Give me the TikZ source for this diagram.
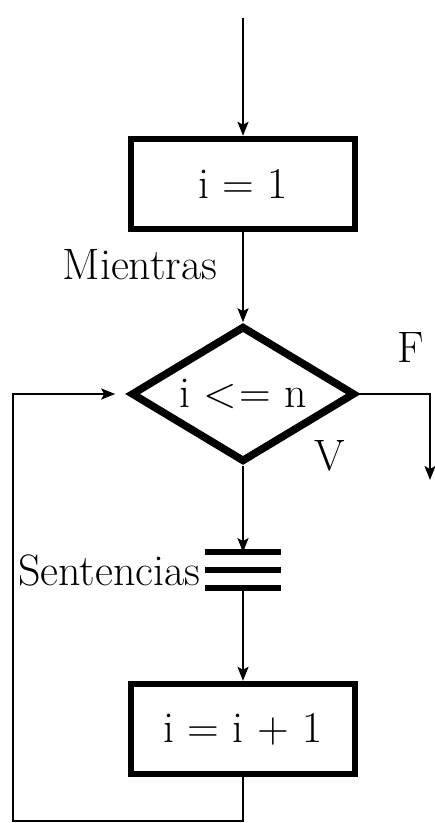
\documentclass[tikz,border=0pt]{standalone}
\usepackage{fontspec}
\usetikzlibrary{shapes.geometric,arrows.meta,positioning}

\tikzset{
  flow/.style={line width=1pt,-{Stealth[length=7pt,width=5.5pt,inset=1.5pt]}},
  wire/.style={line width=1pt},
  procbox/.style={draw,line width=3.2pt,rectangle,minimum width=112pt,minimum height=45pt,inner sep=0pt},
  testbox/.style={draw,line width=3.8pt,diamond,aspect=1.7,minimum width=112pt,minimum height=68pt,inner sep=0pt},
  bar/.style={line width=2.8pt},
  lbl/.style={inner sep=0pt}
}

\begin{document}
\begin{tikzpicture}[x=0.5pt,y=-0.5pt,font=\fontsize{22}{26}\selectfont]

  \useasboundingbox (0,0) rectangle (434,823);

  \def\axis{243}
  % --- boxes and test ---
  \node[procbox] (init) at (\axis,184) {i = 1};
  \node[testbox] (test) at (\axis,394) {i <\kern1pt= n};
  \node[minimum width=37.5pt,minimum height=17.5pt,inner sep=0pt] (sent) at (\axis,570) {};
  \node[procbox] (incr) at (\axis,729) {i = i + 1};

  % --- sentence block: three bars ---
  \foreach \a/\b in {north west/north east,west/east,south west/south east}
    \draw[bar] (sent.\a) -- (sent.\b);

  % --- labels ---
  \node[lbl] (mient) at (140,265) {Mientras};
  \node[lbl] (fal) at (411,348) {F};
  \node[lbl] (ver) at (330,456) {V};
  \node[lbl,left=2pt of sent] (sentlbl) {Sentencias};

  % --- free ends ---
  \coordinate (start) at (\axis,18);
  \coordinate (exit) at (430,480);
  \coordinate (loop) at (13,821);

  % --- connectors ---
  \draw[flow] (start) -- (init.north);
  \draw[flow] (init.south) -- (test.north);
  \draw[flow] (test.east) -| (exit);
  \draw[flow] (test.south) -- (sent.north);
  \draw[flow] (sent.south) -- (incr.north);
  \draw[flow,shorten >=6pt] (incr.south) |- (loop) |- (test.west);

\end{tikzpicture}
\end{document}
